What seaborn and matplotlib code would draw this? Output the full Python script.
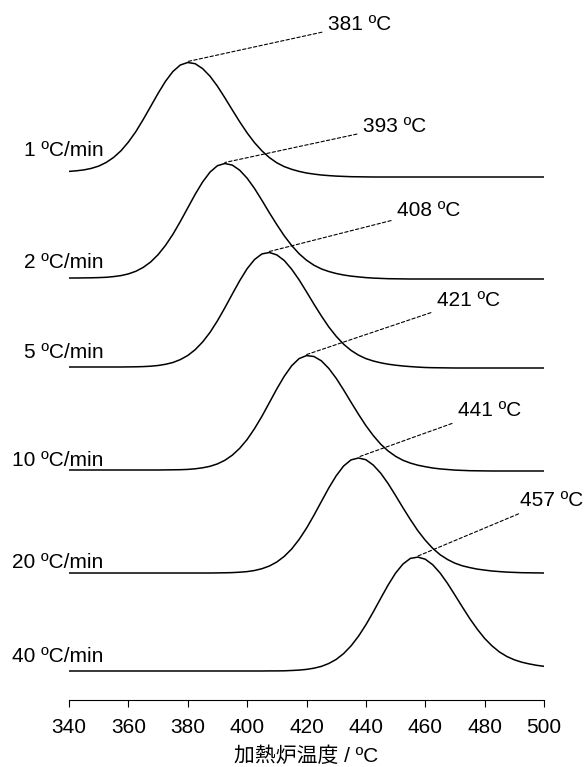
import matplotlib
matplotlib.use('Agg')
import matplotlib.pyplot as plt
import seaborn as sns
import numpy as np
import pandas as pd

# furnace temperature grid (ºC), 2.5 ºC steps
temps = [340 + 2.5 * i for i in range(65)]

rates = ['1 ºC/min', '2 ºC/min', '5 ºC/min', '10 ºC/min', '20 ºC/min', '40 ºC/min']
peak_labels = ['381 ºC', '393 ºC', '408 ºC', '421 ºC', '441 ºC', '457 ºC']

# signal (arb. units), relative to its own starting baseline
sig_1 = [0.6, 1.2, 2.1, 3.6, 5.9, 9.5, 14.5, 21.2, 29.9, 40.3, 52.5, 65.5, 78.6,
         90.7, 100.5, 107.0, 109.5, 108.3, 103.4, 95.8, 85.8, 74.2, 62.1, 50.2,
         39.1, 29.3, 21.1, 14.4, 9.2, 5.4, 2.7, 0.6, -1.0, -2.1, -3.0, -3.6, -4.1,
         -4.4, -4.7, -4.8, -4.9, -5.0, -5.0, -5.0, -5.0, -5.0, -5.0, -5.0, -5.0,
         -5.0, -5.0, -5.0, -5.0, -5.0, -5.0, -5.0, -5.0, -5.0, -5.0, -5.0, -5.0,
         -5.0, -5.0, -5.0, -5.0]
sig_2 = [0.0, 0.0, 0.1, 0.2, 0.4, 0.7, 1.4, 2.4, 4.1, 6.7, 10.6, 16.0, 23.3,
         32.6, 43.7, 56.5, 70.1, 83.7, 96.0, 105.9, 112.3, 114.5, 112.9, 107.8,
         99.8, 89.5, 77.6, 65.2, 53.4, 42.2, 32.5, 24.3, 17.8, 12.8, 9.1, 6.5, 4.5,
         3.0, 1.9, 1.1, 0.4, -0.1, -0.4, -0.7, -0.8, -0.9, -1.0, -1.0, -1.0, -1.0,
         -1.0, -1.0, -1.0, -1.0, -1.0, -1.0, -1.0, -1.0, -1.0, -1.0, -1.0, -1.0,
         -1.0, -1.0, -1.0]
sig_5 = [0.0, 0.0, 0.0, 0.0, 0.0, 0.0, 0.0, 0.0, 0.1, 0.2, 0.4, 0.8, 1.5, 2.7,
         4.5, 7.4, 11.5, 17.3, 25.0, 34.6, 46.2, 59.2, 72.9, 86.3, 98.3, 107.5,
         113.1, 114.5, 112.1, 106.5, 97.8, 87.2, 75.2, 62.9, 51.1, 40.1, 30.7, 22.8,
         16.6, 11.9, 8.4, 6.0, 4.2, 2.8, 1.8, 1.0, 0.4, -0.1, -0.5, -0.7, -0.8,
         -0.9, -1.0, -1.0, -1.0, -1.0, -1.0, -1.0, -1.0, -1.0, -1.0, -1.0, -1.0,
         -1.0, -1.0]
sig_10 = [0.0, 0.0, 0.0, 0.0, 0.0, 0.0, 0.0, 0.0, 0.0, 0.0, 0.0, 0.0, 0.0,
          0.1, 0.2, 0.3, 0.6, 1.2, 2.2, 3.7, 6.1, 9.7, 14.8, 21.7, 30.5, 41.4,
          53.8, 67.4, 81.1, 93.7, 104.2, 111.4, 114.4, 113.5, 109.2, 101.6, 91.7,
          80.1, 67.8, 55.8, 44.4, 34.4, 25.8, 19.0, 13.7, 9.7, 6.9, 4.8, 3.3, 2.0,
          1.1, 0.5, -0.1, -0.4, -0.7, -0.8, -0.9, -1.0, -1.0, -1.0, -1.0, -1.0,
          -1.0, -1.0, -1.0]
sig_20 = [0.0, 0.0, 0.0, 0.0, 0.0, 0.0, 0.0, 0.0, 0.0, 0.0, 0.0, 0.0, 0.0,
          0.0, 0.0, 0.0, 0.0, 0.0, 0.0, 0.0, 0.1, 0.2, 0.4, 0.8, 1.4, 2.5, 4.3,
          7.0, 11.0, 16.6, 24.0, 33.5, 44.8, 57.7, 71.4, 85.0, 97.2, 107.0, 113.1,
          115.0, 113.3, 107.9, 99.8, 89.4, 77.5, 65.2, 53.4, 42.3, 32.8, 24.7,
          18.3, 13.5, 9.8, 7.2, 5.4, 3.9, 2.9, 2.0, 1.4, 0.9, 0.6, 0.3, 0.2, 0.1,
          0.0]
sig_40 = [0.0, 0.0, 0.0, 0.0, 0.0, 0.0, 0.0, 0.0, 0.0, 0.0, 0.0, 0.0, 0.0,
          0.0, 0.0, 0.0, 0.0, 0.0, 0.0, 0.0, 0.0, 0.0, 0.0, 0.0, 0.0, 0.0, 0.0,
          0.1, 0.1, 0.2, 0.5, 0.9, 1.6, 2.8, 4.6, 7.5, 11.6, 17.4, 25.1, 34.7,
          46.2, 59.1, 72.7, 86.0, 97.9, 107.0, 112.6, 113.9, 111.8, 106.3, 98.0,
          87.6, 75.9, 64.0, 52.4, 41.9, 32.6, 25.1, 19.0, 14.5, 11.2, 8.8, 7.1,
          5.7, 4.7]
signals = [sig_1, sig_2, sig_5, sig_10, sig_20, sig_40]

# vertical stacking offset of each trace
offsets = [528, 422, 333, 230, 127, 29]

sns.set_style('white')
plt.rcParams['font.family'] = ['Liberation Sans', 'Noto Sans CJK JP', 'DejaVu Sans']
plt.rcParams['text.color'] = 'black'
plt.rcParams['axes.labelcolor'] = 'black'

fig = plt.figure(figsize=(5.85, 7.67), dpi=100)
ax = fig.add_axes([69 / 585, 67 / 767, 475 / 585, 700 / 767])

# label positions (rate label y, peak text x / y)
rate_y = [550, 437, 348, 239, 137, 43]
text_x = [427.2, 439.0, 450.5, 463.9, 471.0, 491.9]
text_y = [676, 574, 489, 400, 290, 200]

for i in range(len(rates)):
    y = np.array(signals[i]) + offsets[i]
    sns.lineplot(x=temps, y=y, color='black', lw=1.1, ax=ax)
    # rate label on the left
    ax.text(351.5, rate_y[i], rates[i], ha='right', va='center', fontsize=15)
    # peak annotation with dashed leader
    k = int(np.argmax(signals[i]))
    ax.annotate(peak_labels[i], xy=(temps[k], y[k] + 1), xytext=(text_x[i], text_y[i]),
                ha='left', va='center', fontsize=15,
                arrowprops=dict(arrowstyle='-', linestyle=(0, (3, 2)), lw=0.8,
                                color='black', shrinkA=2, shrinkB=0))

ax.set_xlim(340, 500)
ax.set_ylim(0, 700)
ax.set_xticks(range(340, 501, 20))
ax.set_yticks([])
ax.set_ylabel('')
ax.set_xlabel('加熱炉温度 / ºC', fontsize=15, labelpad=7)
ax.tick_params(axis='x', direction='out', length=5, width=0.8, pad=8,
               labelsize=15, colors='black', bottom=True)
for s in ['left', 'top', 'right']:
    ax.spines[s].set_visible(False)
ax.spines['bottom'].set_color('black')
ax.spines['bottom'].set_linewidth(0.8)

fig.savefig('out.png', dpi=100)
